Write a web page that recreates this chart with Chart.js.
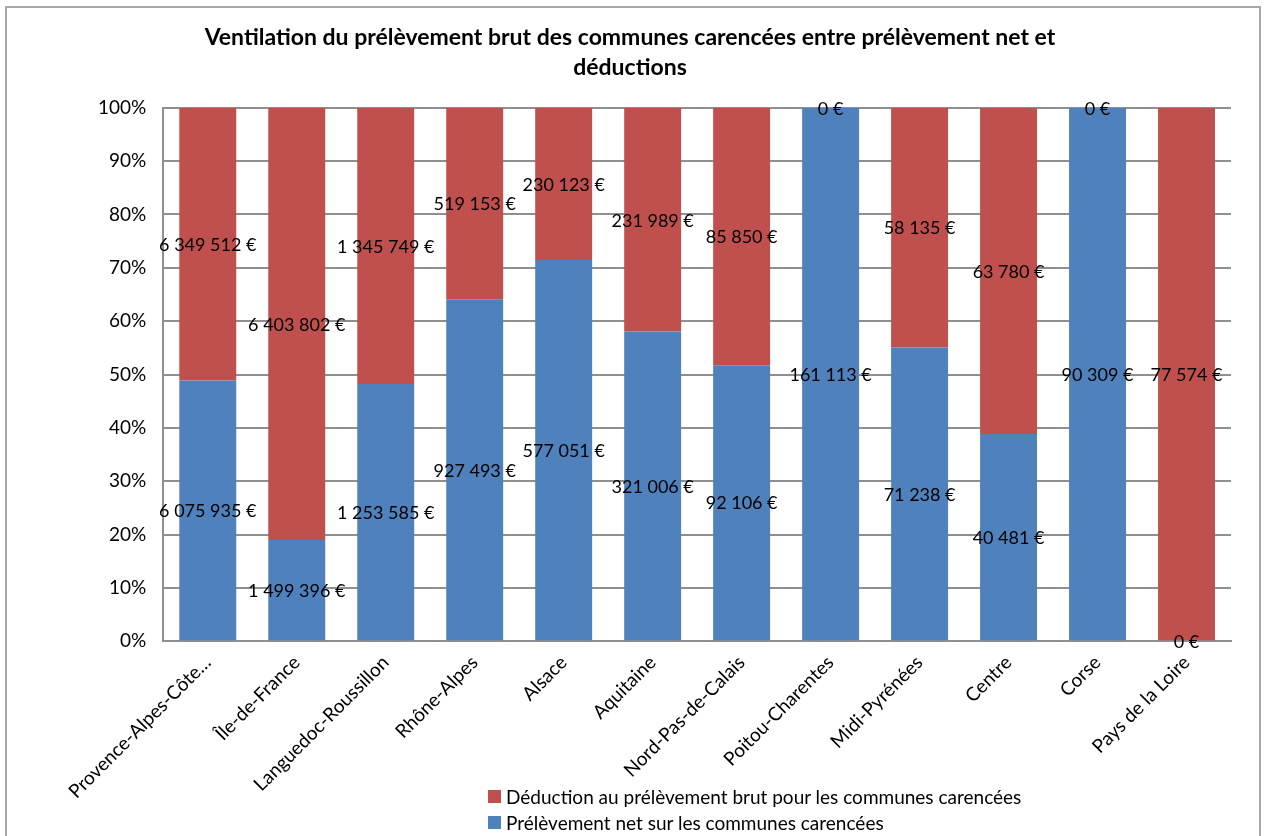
<!DOCTYPE html>
<html lang="fr">
<head>
<meta charset="utf-8">
<title>Ventilation du prélèvement brut</title>
<script src="https://cdn.jsdelivr.net/npm/chart.js@4/dist/chart.umd.min.js"></script>
<style>
    body { margin: 0; background: #fff; }
    #wrap { position: relative; width: 1265px; height: 836px; overflow: hidden; }
    #frame { position: absolute; left: 5px; top: 6px; width: 1256px; height: 840px; border: 2px solid #a8a8a8; box-sizing: border-box; }
    #legend { position: absolute; left: 488px; top: 783px; font: 19px Lato, sans-serif; color: #000; }
    #legend div { display: flex; align-items: center; height: 26px; }
    #legend span.box { width: 13px; height: 13px; margin-right: 5px; display: inline-block; }
</style>
</head>
<body>
<div id="wrap">
    <div id="frame"></div>
    <canvas id="chart" width="1265" height="836"></canvas>
    <div id="legend"></div>
</div>
<script>
const regions = ['Provence-Alpes-Côte…', 'Île-de-France', 'Languedoc-Roussillon', 'Rhône-Alpes', 'Alsace',
    'Aquitaine', 'Nord-Pas-de-Calais', 'Poitou-Charentes', 'Midi-Pyrénées', 'Centre', 'Corse', 'Pays de la Loire'];
const netLevy = [6075935, 1499396, 1253585, 927493, 577051, 321006, 92106, 161113, 71238, 40481, 90309, 0];
const deductions = [6349512, 6403802, 1345749, 519153, 230123, 231989, 85850, 0, 58135, 63780, 0, 77574];
const percentTicks = [0, 10, 20, 30, 40, 50, 60, 70, 80, 90, 100];

const BLUE = '#4f81bd';
const RED = '#c0504d';
const FONT = 'Lato, sans-serif';

// share of the gross levy for each region (100% stacked)
const totals = regions.map((_, i) => netLevy[i] + deductions[i]);
const toPct = arr => arr.map((v, i) => totals[i] ? v / totals[i] * 100 : 0);

function formatEuro(v) {
    return String(v).replace(/\B(?=(\d{3})+(?!\d))/g, ' ') + ' €';
}

// euro amounts written in the middle of each segment
const valueLabels = {
    id: 'valueLabels',
    afterDatasetsDraw(chart) {
        const ctx = chart.ctx;
        ctx.save();
        ctx.font = '18px ' + FONT;
        ctx.fillStyle = '#000';
        ctx.textAlign = 'center';
        ctx.textBaseline = 'middle';
        chart.data.datasets.forEach((ds, i) => {
            chart.getDatasetMeta(i).data.forEach((bar, j) => {
                ctx.fillText(formatEuro(ds.amounts[j]), bar.x, (bar.y + bar.base) / 2 + 1);
            });
        });
        ctx.restore();
    }
};

// center the title on the whole canvas rather than the padded area
const centerTitle = {
    id: 'centerTitle',
    afterLayout(chart) {
        if (chart.titleBlock) {
            chart.titleBlock.left = 0;
            chart.titleBlock.right = chart.width - 5;
        }
    }
};

const chart = new Chart(document.getElementById('chart'), {
    type: 'bar',
    data: {
        labels: regions,
        datasets: [
            { label: 'Prélèvement net sur les communes carencées', data: toPct(netLevy), amounts: netLevy, backgroundColor: BLUE },
            { label: 'Déduction au prélèvement brut pour les communes carencées', data: toPct(deductions), amounts: deductions, backgroundColor: RED }
        ]
    },
    options: {
        responsive: false,
        devicePixelRatio: 1,
        animation: false,
        barPercentage: 0.64,
        categoryPercentage: 1,
        layout: { padding: { left: 81, right: 34, top: 0, bottom: 23 } },
        plugins: {
            legend: { display: false },
            tooltip: { enabled: false },
            title: {
                display: true,
                text: ['Ventilation du prélèvement brut des communes carencées entre prélèvement net et', 'déductions'],
                color: '#000',
                font: { family: FONT, size: 23, weight: 'bold', lineHeight: 1.3 },
                padding: { top: 23, bottom: 25 }
            }
        },
        scales: {
            x: {
                stacked: true,
                grid: { display: false, drawTicks: false },
                border: { color: '#8f8f8f', width: 2 },
                ticks: {
                    color: '#000',
                    font: { family: FONT, size: 19 },
                    minRotation: 45,
                    maxRotation: 45,
                    padding: 10,
                    autoSkip: false
                }
            },
            y: {
                stacked: true,
                min: 0,
                max: 100,
                afterBuildTicks: axis => { axis.ticks = percentTicks.map(v => ({ value: v })); },
                grid: { color: '#8f8f8f', lineWidth: 2, drawTicks: false },
                border: { color: '#8f8f8f', width: 2 },
                ticks: {
                    color: '#000',
                    font: { family: FONT, size: 19 },
                    padding: 17,
                    callback: v => v + '%'
                }
            }
        }
    },
    plugins: [valueLabels, centerTitle]
});

// legend listed top-down, deduction first
document.getElementById('legend').innerHTML = chart.data.datasets.slice().reverse().map(ds => `
    <div><span class="box" style="background:${ds.backgroundColor}"></span>${ds.label}</div>
`).join('');
</script>
</body>
</html>
